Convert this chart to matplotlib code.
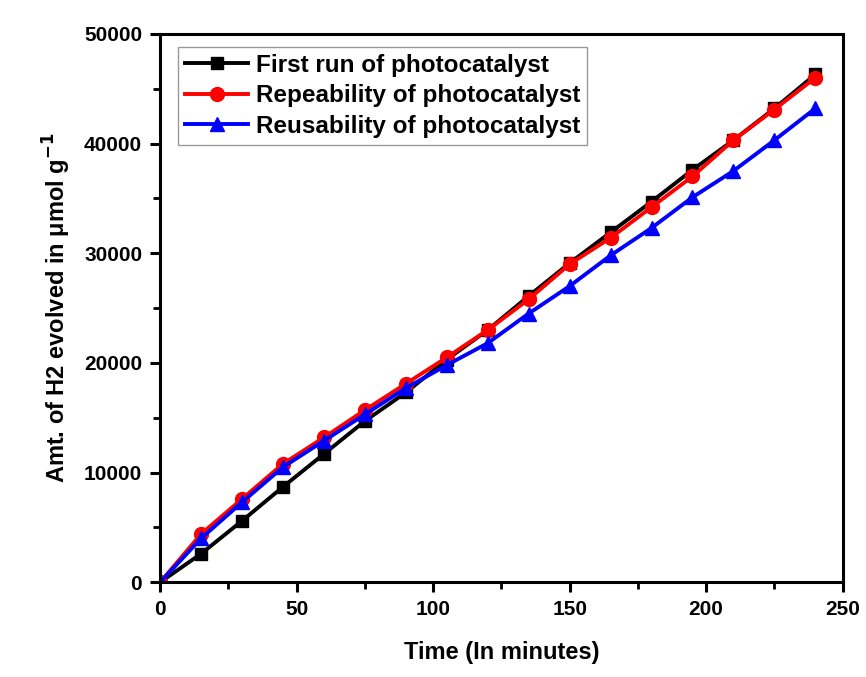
import matplotlib
matplotlib.use("Agg")
import matplotlib.pyplot as plt
from matplotlib.ticker import MultipleLocator

plt.rcParams['font.family'] = ['Liberation Sans', 'DejaVu Sans']
plt.rcParams['font.weight'] = 'bold'

time = [0, 15, 30, 45, 60, 75, 90, 105, 120, 135, 150, 165, 180, 195, 210, 225, 240]
first_run = [0, 2600, 5600, 8700, 11700, 14700, 17300, 20300, 23000, 26100, 29100,
             31900, 34700, 37600, 40300, 43200, 46300]
repeat = [0, 4400, 7600, 10800, 13200, 15700, 18100, 20500, 23000, 25800, 29000,
          31400, 34200, 37000, 40300, 43100, 46000]
reuse = [0, 4000, 7300, 10500, 12900, 15300, 17700, 19800, 21800, 24500, 27000,
         29800, 32300, 35100, 37500, 40300, 43200]

fig = plt.figure(figsize=(8.66, 6.77), dpi=100)
ax = fig.add_axes([0.185, 0.14, 0.788, 0.81])

ax.plot(time, first_run, color='black', marker='s', ms=9, lw=2.8, label='First run of photocatalyst')
ax.plot(time, repeat, color='red', marker='o', ms=10, lw=2.8, label='Repeability of photocatalyst')
ax.plot(time, reuse, color='blue', marker='^', ms=10, lw=2.8, label='Reusability of photocatalyst')

ax.set_xlim(0, 250)
ax.set_ylim(0, 50000)
ax.xaxis.set_major_locator(MultipleLocator(50))
ax.xaxis.set_minor_locator(MultipleLocator(25))
ax.yaxis.set_major_locator(MultipleLocator(10000))
ax.yaxis.set_minor_locator(MultipleLocator(5000))
ax.tick_params(which='major', direction='out', length=7, width=2.2, labelsize=15, pad=6)
ax.tick_params(which='minor', direction='out', length=5, width=2)
for s in ax.spines.values():
    s.set_linewidth(2.2)
for lab in ax.get_xticklabels() + ax.get_yticklabels():
    lab.set_fontweight('bold')

ax.set_xlabel('Time (In minutes)', fontsize=17, fontweight='bold', labelpad=16)
ax.set_ylabel('Amt. of H2 evolved in \u03bcmol g$^{\\mathbf{-1}}$', fontsize=17, fontweight='bold', labelpad=8)

leg = ax.legend(loc='upper left', bbox_to_anchor=(0.015, 0.99), fancybox=False,
                handlelength=2.6, handletextpad=0.3, borderpad=0.3, labelspacing=0.3,
                borderaxespad=0.3, prop={'weight': 'bold', 'size': 17.5})
leg.get_frame().set_edgecolor('gray')
leg.get_frame().set_linewidth(1)

fig.savefig('out.png', dpi=100)
